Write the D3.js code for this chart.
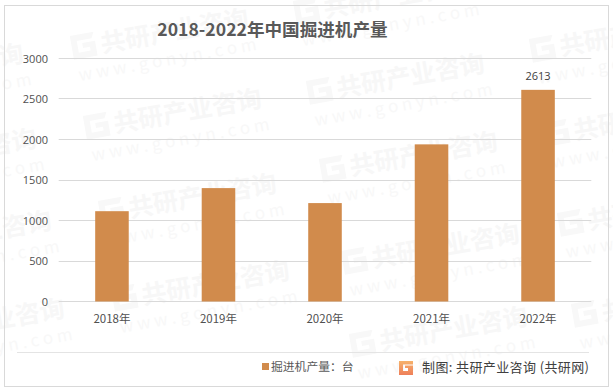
<!DOCTYPE html>
<html><head><meta charset="utf-8">
<script src="https://cdn.jsdelivr.net/npm/d3@7"></script>
<style>html,body{margin:0;padding:0;background:#fff}svg{display:block}text{font-family:"Noto Sans CJK SC","Noto Sans",sans-serif}</style>
</head><body><svg id="c" width="613" height="389"></svg>
<script>
const categories=["2018年","2019年","2020年","2021年","2022年"];
const values=[1115,1400,1215,1940,2613];
const labelled=[false,false,false,false,true];
const ticks=[0,500,1000,1500,2000,2500,3000];
const title="2018-2022年中国掘进机产量";
const legendLabel="掘进机产量：台";
const sourceLabel="制图: 共研产业咨询 (共研网)";
const wmText="共研产业咨询";
const wmUrl="w w w . g o n y n . c o m";
const wmAnchors=[[72,60],[85,140],[100,225],[113,312],[308,105],[321,183],[343,275],[351,358],[531,63],[545,147],[559,237],[573,328],[-153,95],[-140,180],[-125,262],[-112,350],[295,25]];

const svg=d3.select("#c");
const defs=svg.append("defs");
const grad=defs.append("linearGradient").attr("id","lg").attr("x1",0).attr("y1",0).attr("x2",0).attr("y2",1);
grad.append("stop").attr("offset",0).attr("stop-color","#f6b26b");
grad.append("stop").attr("offset",1).attr("stop-color","#ee7f5a");

const x=d3.scaleBand().domain(categories).range([58.7,591.3]).paddingInner(0.685).paddingOuter(0.3425);
const y=d3.scaleLinear().domain([0,3000]).range([301.5,58.5]);

// watermark
const wm=svg.append("g").selectAll("g").data(wmAnchors).join("g")
 .attr("transform",d=>`translate(${d[0]},${d[1]}) rotate(-10)`);
wm.append("path").attr("d","M2,-24H26L23,-18H8V-6H20V-10H13V-15H26V0H2Z").attr("fill","#f8f8f8");
wm.append("text").attr("x",31).attr("y",-2).attr("font-size",25).attr("font-weight",700).attr("fill","#f7f7f7").text(wmText);
wm.append("text").attr("x",4).attr("y",22).attr("font-size",17).attr("fill","#f8f8f8").text(wmUrl);

// frame
svg.append("rect").attr("x",4.5).attr("y",5.5).attr("width",604).attr("height",381).attr("fill","none").attr("stroke","#d9d9d9");

// grid
svg.append("g").selectAll("line").data(ticks).join("line")
 .attr("x1",58.7).attr("x2",591.3).attr("y1",d=>Math.floor(y(d))+0.5).attr("y2",d=>Math.floor(y(d))+0.5)
 .attr("stroke","#d9d9d9");

// y axis via d3
const ya=svg.append("g").attr("transform","translate(58,0)").call(d3.axisLeft(y).tickValues(ticks).tickFormat(d3.format("d")).tickSize(0).tickPadding(10));
ya.select(".domain").remove();
ya.selectAll("text").attr("font-size",11).attr("fill","#505050").style("font-family","'Open Sans'");

// x axis via d3
const xa=svg.append("g").attr("transform","translate(0,303)").call(d3.axisBottom(x).tickSize(0).tickPadding(12));
xa.select(".domain").remove();
xa.selectAll("text").attr("font-size",11.5).attr("fill","#505050");

// bars
svg.append("g").selectAll("rect").data(values).join("rect")
 .attr("x",(d,i)=>x(categories[i])).attr("width",x.bandwidth())
 .attr("y",d=>y(d)).attr("height",d=>y(0)-y(d)).attr("fill","#d18b4c");

// labels
svg.append("g").selectAll("text").data(values.filter((d,i)=>labelled[i])).join("text")
 .attr("x",(d)=>x(categories[values.indexOf(d)])+x.bandwidth()/2).attr("y",d=>y(d)-10)
 .attr("text-anchor","middle").attr("font-size",11).attr("fill","#404040").style("font-family","'Open Sans'").text(d=>d);

// title
svg.append("text").attr("x",272.5).attr("y",36).attr("text-anchor","middle").attr("font-size",17.6).attr("font-weight",700).attr("fill","#595959").text(title);

// separator & legend
svg.append("line").attr("x1",17).attr("x2",589).attr("y1",352.5).attr("y2",352.5).attr("stroke","#e4e4e4");
svg.append("rect").attr("x",262).attr("y",363).attr("width",7).attr("height",7).attr("fill","#d18b4c");
svg.append("text").attr("x",271).attr("y",371).attr("font-size",11.8).attr("fill","#595959").text(legendLabel);
const lg=svg.append("g").attr("transform","translate(399,361)");
lg.append("path").attr("d","M0,0H14V3.5H4V10H9V7H6V4.5H14V14H0Z").attr("fill","url(#lg)");
svg.append("text").attr("x",422).attr("y",372).attr("font-size",13).attr("fill","#404040").attr("textLength",167).text(sourceLabel);
</script></body></html>
